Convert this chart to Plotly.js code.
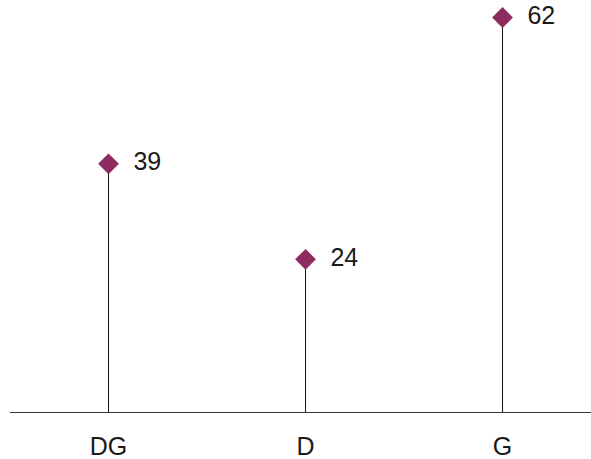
<!DOCTYPE html>
<html>
<head>
<meta charset="utf-8">
<script src="https://cdn.plot.ly/plotly-3.0.1.min.js"></script>
<style>html,body{margin:0;padding:0;background:#fff;}#chart{width:591px;height:459px;}</style>
</head>
<body>
<div id="chart"></div>
<script>
const categories = ["DG", "D", "G"];
const values = [39, 24, 62];

const stems = values.map(v => v);
const zeros = values.map(() => 0);

const trace = {
  type: "scatter",
  mode: "markers+text",
  x: categories,
  y: values,
  text: values.map(v => "\u00A0\u00A0" + String(v)),
  textposition: "middle right",
  textfont: {family: "Liberation Sans, Arial, sans-serif", size: 25, color: "#1a1a1a"},
  marker: {symbol: "diamond", size: 16, color: "#8E2C61"},
  error_y: {type: "data", symmetric: false, array: zeros, arrayminus: stems, width: 0, thickness: 1, color: "#111"},
  cliponaxis: false,
  hoverinfo: "none"
};

const layout = {
  width: 591, height: 459,
  margin: {l: 10, r: 0, t: 10, b: 47},
  paper_bgcolor: "#fff", plot_bgcolor: "#fff",
  showlegend: false,
  xaxis: {
    type: "category",
    range: [-0.5, 2.449],
    showgrid: false, zeroline: false,
    showline: false,
    ticks: "",
    tickfont: {family: "Liberation Sans, Arial, sans-serif", size: 25, color: "#1a1a1a"},
    ticklabelstandoff: 17
  },
  yaxis: {
    range: [0, 63.18],
    showgrid: false, zeroline: true, zerolinecolor: "#333", zerolinewidth: 1,
    showticklabels: false, ticks: "", showline: false
  }
};

Plotly.newPlot("chart", [trace], layout, {displayModeBar: false, staticPlot: true});
</script>
</body>
</html>
